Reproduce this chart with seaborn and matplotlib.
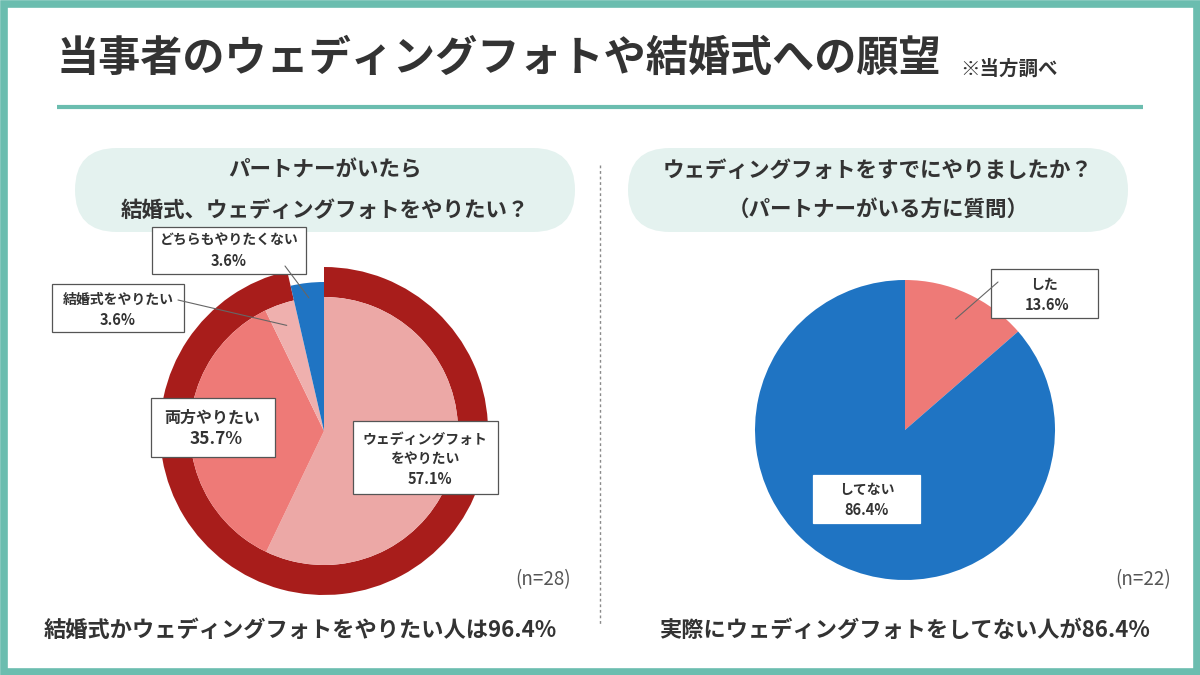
import numpy as np
import matplotlib
matplotlib.use("Agg")
import matplotlib.pyplot as plt
import seaborn as sns
from matplotlib.patches import Rectangle, FancyBboxPatch

# data
title = "当事者のウェディングフォトや結婚式への願望"
note = "※当方調べ"
left_question = "パートナーがいたら\n結婚式、ウェディングフォトをやりたい？"
right_question = "ウェディングフォトをすでにやりましたか？\n（パートナーがいる方に質問）"
left_labels = ["ウェディングフォト\nをやりたい", "両方やりたい", "結婚式をやりたい", "どちらもやりたくない"]
left_values = [57.1, 35.7, 3.6, 3.6]
right_labels = ["した", "してない"]
right_values = [13.6, 86.4]
left_n = 28
right_n = 22
left_summary = "結婚式かウェディングフォトをやりたい人は96.4%"
right_summary = "実際にウェディングフォトをしてない人が86.4%"

sns.set_theme(style="white")
plt.rcParams["font.family"] = ["Noto Sans CJK JP", "DejaVu Sans"]

TEAL = "#6bbdaf"
INK = "#333333"
DARK_RED = "#a81d1b"
SALMON = "#ee7a77"
PINK = "#eca8a6"
PINK2 = "#efb0ae"
BLUE = "#1f74c3"
H = 675


def Y(y):
    return H - y


fig = plt.figure(figsize=(12, 6.75), dpi=100)
ax = fig.add_axes([0, 0, 1, 1])

# ---- left pie: outer ring + inner pie
lc = (324, Y(431))
ring_vals = [sum(left_values[:3]), left_values[3]]
ax.pie(ring_vals, colors=[DARK_RED, "none"], radius=164, center=lc,
       startangle=90, counterclock=False,
       wedgeprops=dict(width=30, linewidth=0))
ax.pie(left_values, colors=[PINK, SALMON, PINK2, "none"], radius=134, center=lc,
       startangle=90, counterclock=False, wedgeprops=dict(linewidth=0))
ax.pie(ring_vals, colors=["none", BLUE], radius=149, center=lc,
       startangle=90, counterclock=False, wedgeprops=dict(linewidth=0))

# ---- right pie
rc = (905, Y(430))
ax.pie(right_values, colors=[SALMON, BLUE], radius=150, center=rc,
       startangle=90, counterclock=False, wedgeprops=dict(linewidth=0))

ax.set_xlim(0, 1200)
ax.set_ylim(0, H)
ax.set_aspect("equal")
ax.axis("off")


def wedge_point(values, idx, center, r):
    # clockwise from 12 o'clock
    cum = np.cumsum([0] + list(values))
    frac = (cum[idx] + values[idx] / 2) / cum[-1]
    ang = 2 * np.pi * frac
    return center[0] + r * np.sin(ang), center[1] + r * np.cos(ang)


def label_box(x0, y0, x1, y1, lines, sizes, ys, xs=None, edge="#555555"):
    ax.add_patch(Rectangle((x0, Y(y1)), x1 - x0, y1 - y0, facecolor="white",
                           edgecolor=edge, linewidth=0.9, zorder=5))
    for i, (t, s, yy) in enumerate(zip(lines, sizes, ys)):
        xx = (x0 + x1) / 2 if xs is None else xs[i]
        ax.text(xx, Y(yy), t, ha="center", va="center", fontsize=s,
                color=INK, fontweight="bold", zorder=6)


def leader(start, end):
    ax.plot([start[0], end[0]], [Y(start[1]), end[1]], color="#666666",
            linewidth=0.8, zorder=7)


# leader lines (drawn to wedge positions)
leader((285, 266), wedge_point(left_values, 3, lc, 134))
leader((178, 300), wedge_point(left_values, 2, lc, 112))
leader((998, 282), wedge_point(right_values, 0, rc, 122))

# label boxes
label_box(152, 227, 306, 274, [left_labels[3], f"{left_values[3]:.1f}%"],
          [10, 10.5], [241, 261])
label_box(52, 284, 184, 332, [left_labels[2], f"{left_values[2]:.1f}%"],
          [10, 10.5], [300, 320])
label_box(151, 398, 275, 457, [left_labels[1], f"{left_values[1]:.1f}%"],
          [11.5, 12.5], [418, 439], xs=[212, 216])
label_box(353, 421, 498, 494, left_labels[0].split("\n") + [f"{left_values[0]:.1f}%"],
          [10, 10, 10.5], [440, 459, 479], xs=[425, 425, 430])
label_box(991, 269, 1098, 318, [right_labels[0], f"{right_values[0]:.1f}%"],
          [10, 10.5], [285, 305], xs=[1044, 1047])
label_box(813, 475, 920, 523, [right_labels[1], f"{right_values[1]:.1f}%"],
          [10, 10.5], [490, 510], edge="white")

# ---- header and frame
ax.text(57, Y(59), title, ha="left", va="center", fontsize=30.3,
        fontweight="bold", color=INK)
ax.text(960, Y(69), note, ha="left", va="center", fontsize=14,
        fontweight="bold", color=INK)
ax.plot([57, 1143], [Y(107), Y(107)], color=TEAL, linewidth=3, solid_capstyle="butt")

for x0, q in [(75, left_question), (628, right_question)]:
    ax.add_patch(FancyBboxPatch((x0, Y(232)), 500, 84,
                                boxstyle="round,pad=0,rounding_size=42",
                                facecolor="#e4f2ef", edgecolor="none", zorder=1))
    l1, l2 = q.split("\n")
    ax.text(x0 + 250, Y(170), l1, ha="center", va="center", fontsize=15.5,
            fontweight="bold", color=INK, zorder=2)
    ax.text(x0 + 250, Y(210), l2, ha="center", va="center", fontsize=15.5,
            fontweight="bold", color=INK, zorder=2)

# divider
ax.plot([600, 600], [Y(165), Y(625)], color="#8a8a8a", linewidth=1,
        linestyle=(0, (2, 2)))

# n and summaries
ax.text(571, Y(580), f"(n={left_n})", ha="right", va="center", fontsize=13.5, color="#555555")
ax.text(1171, Y(580), f"(n={right_n})", ha="right", va="center", fontsize=13.5, color="#555555")
ax.text(300, Y(630), left_summary, ha="center", va="center", fontsize=16,
        fontweight="bold", color=INK)
ax.text(904, Y(630), right_summary, ha="center", va="center", fontsize=16,
        fontweight="bold", color=INK)

# teal outer border
ax.add_patch(Rectangle((3.5, 3.5), 1193, H - 7, facecolor="none",
                       edgecolor=TEAL, linewidth=5.5, zorder=10))

fig.savefig("out.png", dpi=100)
